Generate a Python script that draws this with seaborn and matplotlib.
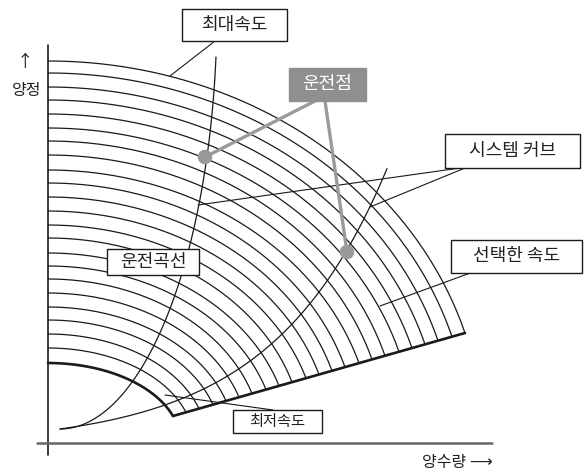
import numpy as np
import pandas as pd
import matplotlib
matplotlib.use("Agg")
import matplotlib.pyplot as plt
from matplotlib.patches import Rectangle
import seaborn as sns

# shut-off head of every speed curve, top (max speed) to bottom (min speed)
shutoff_head = [382, 370, 356, 343, 329, 315, 302, 288, 273, 260, 246, 232,
                218, 205, 190, 177, 164, 150, 136, 123, 109, 95, 80]
# flow where each speed curve stops on the end-of-curve line
end_flow = [417, 404, 390, 377, 364, 351, 337, 324, 311, 297, 284, 271,
            258, 244, 231, 218, 204, 191, 178, 165, 151, 138, 125]
# end-of-curve line (min speed end -> max speed end)
end_line_q = [125, 417]
end_line_h = [27, 110]

# operating (control) curve: start point, quarter-ellipse half axes, top head
ctrl_start = (12, 14)
ctrl_axes = (157, 420)
ctrl_top_head = 386

# system curve: start point, scale, flow constant, last flow
sys_start = (12, 14)
sys_scale = 16.1
sys_q_const = 115
sys_end_flow = 339

# operating points
op_flow = [157, 299]
op_head = [286, 191]

LINE = "#1a1a1a"
GREY = "#8f8f8f"

sns.set_theme(style="white")
plt.rcParams['font.family'] = ['Noto Sans CJK KR', 'DejaVu Sans']

fig = plt.figure(figsize=(5.86, 4.75), dpi=100)
ax = fig.add_axes([0, 0, 1, 1])
ax.set_xlim(-48, 538)
ax.set_ylim(-32, 443)
ax.axis('off')

# speed curves as ellipse arcs ending on the end-of-curve line
rows = []
for i, (h0, qe) in enumerate(zip(shutoff_head, end_flow)):
    he = np.interp(qe, end_line_q, end_line_h)
    a = qe / np.sqrt(1 - (he / h0) ** 2)
    q = np.linspace(0, qe, 200)
    h = h0 * np.sqrt(np.clip(1 - (q / a) ** 2, 0, None))
    for qq, hh in zip(q, h):
        rows.append({"curve": i, "Q": qq, "H": hh})
curves = pd.DataFrame(rows)

sns.lineplot(data=curves[curves.curve < len(shutoff_head) - 1], x="Q", y="H",
             units="curve", estimator=None, sort=False, color=LINE, lw=0.9,
             legend=False, ax=ax)
sns.lineplot(data=curves[curves.curve == len(shutoff_head) - 1], x="Q", y="H",
             estimator=None, sort=False, color=LINE, lw=1.9, ax=ax)
sns.lineplot(x=end_line_q, y=end_line_h, color=LINE, lw=1.9, ax=ax)

# operating curve
t_top = np.arccos(1 - (ctrl_top_head - ctrl_start[1]) / ctrl_axes[1])
t = np.linspace(0, t_top, 200)
ctrl_q = ctrl_start[0] + ctrl_axes[0] * np.sin(t)
ctrl_h = ctrl_start[1] + ctrl_axes[1] * (1 - np.cos(t))
sns.lineplot(x=ctrl_q, y=ctrl_h, sort=False, estimator=None, color=LINE, lw=0.9, ax=ax)

# system curve
sq = np.linspace(sys_start[0], sys_end_flow, 200)
sh = sys_start[1] + sys_scale * (np.exp((sq - sys_start[0]) / sys_q_const) - 1)
sns.lineplot(x=sq, y=sh, sort=False, estimator=None, color=LINE, lw=0.9, ax=ax)

# axes
ax.plot([0, 0], [-12, 398], color=LINE, lw=1.2)
ax.plot([-11, 444], [0, 0], color="#666666", lw=1.8)
ax.text(-23, 381, "↑", ha="center", va="center", fontsize=12, color="#222222")
ax.text(-21, 353, "양정", ha="center", va="center", fontsize=11.5, color="#222222")
ax.text(409, -19, "양수량 ⟶", ha="center", va="center", fontsize=11.5, color="#222222")


def label_box(x0, y0, x1, y1, text, fs=13, fc="white", tc="#222222", ec=LINE):
    ax.add_patch(Rectangle((x0, y0), x1 - x0, y1 - y0, facecolor=fc,
                           edgecolor=ec, lw=1.0, zorder=5))
    ax.text((x0 + x1) / 2, (y0 + y1) / 2, text, ha="center", va="center",
            fontsize=fs, color=tc, zorder=6)


# leader lines
ax.plot([167, 122], [402, 367], color=LINE, lw=0.8)
ax.plot([412, 150], [275, 238], color=LINE, lw=0.8)
ax.plot([417, 322], [275, 236], color=LINE, lw=0.8)
ax.plot([425, 332], [171, 137], color=LINE, lw=0.8)
ax.plot([225, 117], [33, 48], color=LINE, lw=0.8)
ax.plot([267, op_flow[0]], [342, op_head[0]], color="#9a9a9a", lw=2.4, zorder=3)
ax.plot([277, op_flow[1]], [342, op_head[1]], color="#9a9a9a", lw=2.4, zorder=3)
sns.scatterplot(x=op_flow, y=op_head, s=110, color="#999999", edgecolor="none",
                zorder=4, ax=ax)

label_box(134, 402, 239, 434, "최대속도")
label_box(241, 342, 318, 375, "운전점", fc=GREY, tc="white", ec=GREY)
label_box(397, 275, 532, 309, "시스템 커브")
label_box(59, 168, 151, 194, "운전곡선")
label_box(403, 170, 534, 203, "선택한 속도")
label_box(185, 10, 274, 33, "최저속도", fs=11)

fig.savefig("out.png", dpi=100)
